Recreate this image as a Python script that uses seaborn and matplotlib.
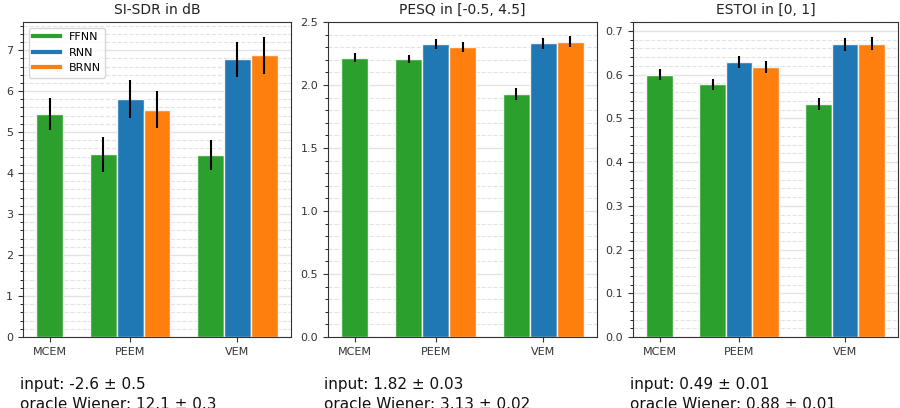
import pandas as pd
import matplotlib.pyplot as plt
from matplotlib.lines import Line2D
from matplotlib.ticker import AutoMinorLocator
import seaborn as sns

# bar positions on the x axis (one unit per bar, gaps between methods)
methods = ['MCEM', 'PEEM', 'VEM']
method_ticks = [0, 3, 7]
models = ['FFNN', 'RNN', 'BRNN']
colors = {'FFNN': '#2ca02c', 'RNN': '#1f77b4', 'BRNN': '#ff7f0e'}

bar_pos = [0, 2, 3, 4, 6, 7, 8]
bar_model = ['FFNN', 'FFNN', 'RNN', 'BRNN', 'FFNN', 'RNN', 'BRNN']

sisdr = [5.43, 4.46, 5.80, 5.55, 4.44, 6.78, 6.87]
sisdr_err = [0.39, 0.43, 0.46, 0.46, 0.37, 0.43, 0.45]
pesq = [2.215, 2.207, 2.325, 2.302, 1.927, 2.330, 2.344]
pesq_err = [0.036, 0.035, 0.038, 0.040, 0.046, 0.043, 0.045]
estoi = [0.600, 0.578, 0.629, 0.618, 0.532, 0.669, 0.671]
estoi_err = [0.013, 0.013, 0.014, 0.014, 0.014, 0.015, 0.015]

titles = ['SI-SDR in dB', 'PESQ in [-0.5, 4.5]', 'ESTOI in [0, 1]']
input_txt = ['-2.6 ± 0.5', '1.82 ± 0.03', '0.49 ± 0.01']
oracle_txt = ['12.1 ± 0.3', '3.13 ± 0.02', '0.88 ± 0.01']

fig = plt.figure(figsize=(9, 4.08), dpi=100)
rects = [[23/900, 71/408, 268/900, 315/408],
         [328/900, 71/408, 269/900, 315/408],
         [633/900, 71/408, 265/900, 315/408]]
text_x = [20/900, 324/900, 630/900]

panels = [(sisdr, sisdr_err, None), (pesq, pesq_err, (0, 2.5)), (estoi, estoi_err, None)]

for i, (vals, errs, ylim) in enumerate(panels):
    ax = fig.add_axes(rects[i])
    df = pd.DataFrame({'pos': bar_pos, 'value': vals, 'model': bar_model})
    sns.barplot(data=df, x='pos', y='value', hue='model', hue_order=models,
                palette=colors, saturation=1, native_scale=True, dodge=False,
                width=1.0, errorbar=None, edgecolor='#f4f4f4', linewidth=1,
                legend=False, ax=ax, zorder=2)
    ax.errorbar(bar_pos, vals, yerr=errs, fmt='none', ecolor='black',
                elinewidth=1.5, capsize=0, zorder=3)

    ax.set_xlim(-1, 9)
    if ylim is not None:
        ax.set_ylim(*ylim)
    ax.set_xticks(method_ticks)
    ax.set_xticklabels(methods)
    ax.set_xlabel('')
    ax.set_ylabel('')
    ax.tick_params(labelsize=8, colors='#333333')
    ax.yaxis.set_minor_locator(AutoMinorLocator())
    ax.set_axisbelow(True)
    ax.yaxis.grid(True, which='major', color='#e3e3e3', linewidth=1)
    ax.yaxis.grid(True, which='minor', color='#e3e3e3', linewidth=0.8, linestyle='--')
    ax.xaxis.grid(False)
    for s in ax.spines.values():
        s.set_color('#333333')
    ax.set_title(titles[i], fontsize=10, color='#222222')

    # summary lines under each panel (second one runs off the bottom, as in the source)
    fig.text(text_x[i], 19/408, 'input: ' + input_txt[i], fontsize=11,
             va='baseline', color='#111111')
    fig.text(text_x[i], -1/408, 'oracle Wiener: ' + oracle_txt[i], fontsize=11,
             va='baseline', color='#111111')

    if i == 0:
        handles = [Line2D([0], [0], color=colors[m], lw=3) for m in models]
        ax.legend(handles, models, loc='upper left', fontsize=8,
                  handlelength=2.4, borderaxespad=0.5)

fig.savefig('out.png', dpi=100)
